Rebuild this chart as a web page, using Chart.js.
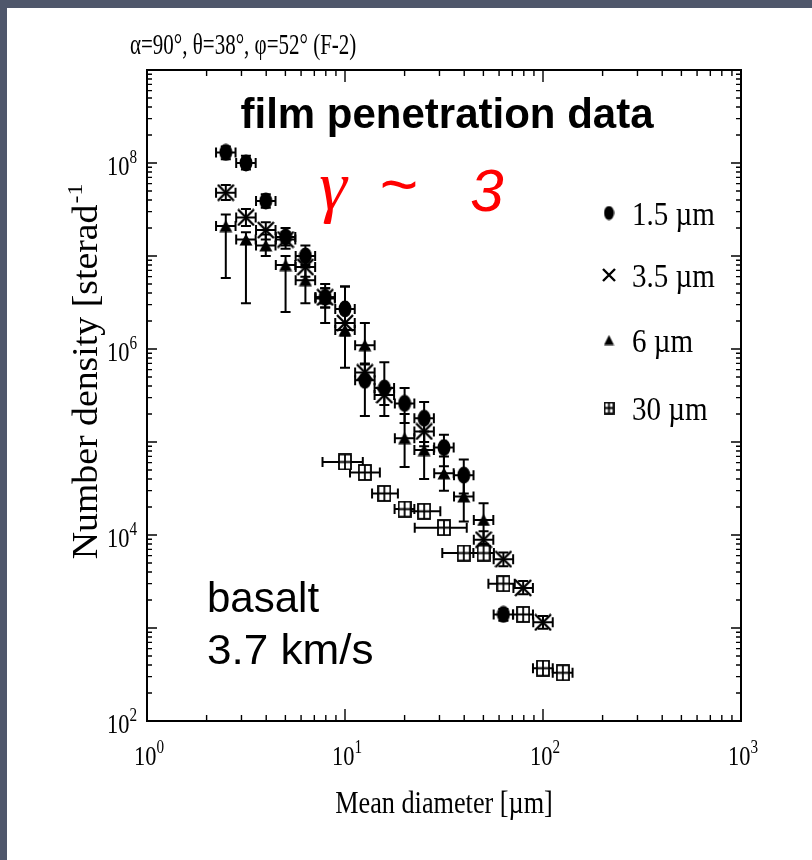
<!DOCTYPE html>
<html>
<head>
<meta charset="utf-8">
<script src="https://cdn.jsdelivr.net/npm/chart.js@4.4.1/dist/chart.umd.min.js"></script>
<style>
  html, body { margin: 0; padding: 0; background: #4f576b; }
  #wrap { position: absolute; left: 0; top: 0; width: 812px; height: 860px; }
</style>
</head>
<body>
<div id="wrap"><canvas id="chart" width="812" height="860"></canvas></div>
<script>
// --- data (mean diameter in um, number density per sterad) ---
const seriesNames = ['1.5 \u00b5m', '3.5 \u00b5m', '6 \u00b5m', '30 \u00b5m']

const d15X = [2.5, 3.16, 3.98, 5.01, 6.31, 7.94, 10, 12.6, 15.8, 20, 25.1, 31.6, 39.8, 63.1]
const d15Y = [1.3e8, 1.0e8, 3.9e7, 1.6e7, 1.0e7, 3.6e6, 2.7e6, 4.6e5, 3.8e5, 2.6e5, 1.8e5, 8.7e4, 4.4e4, 1.4e3]
const d15Lo = [1.1e8, 8.5e7, 3.3e7, 1.3e7, 8e6, 2.8e6, 1.9e6, 1.9e5, 1.9e5, 1.6e5, 1.0e5, 5.5e4, 2.8e4, 1.2e3]
const d15Hi = [1.5e8, 1.2e8, 4.6e7, 2.0e7, 1.3e7, 4.5e6, 4.7e6, 1.0e6, 7.2e5, 3.8e5, 2.7e5, 1.2e5, 6.5e4, 1.6e3]

const d35X = [2.5, 3.16, 3.98, 5.01, 6.31, 7.94, 10, 12.6, 15.8, 25.1, 50.1, 63.1, 79.4, 100]
const d35Y = [4.8e7, 2.6e7, 1.9e7, 1.5e7, 7.6e6, 3.6e6, 1.9e6, 5.6e5, 3.2e5, 1.3e5, 8.9e3, 5.5e3, 2.7e3, 1.15e3]
const d35Lo = [4.0e7, 2.1e7, 1.5e7, 1.2e7, 6.0e6, 2.8e6, 1.4e6, 4.3e5, 2.5e5, 9e4, 7.2e3, 4.6e3, 2.3e3, 9.8e2]
const d35Hi = [5.8e7, 3.2e7, 2.3e7, 1.8e7, 9.5e6, 4.5e6, 2.5e6, 7e5, 4e5, 1.8e5, 1.1e4, 6.5e3, 3.2e3, 1.35e3]

const d6X = [2.5, 3.16, 3.98, 5.01, 6.31, 7.94, 10, 12.6, 20, 25.1, 31.6, 39.8, 50.1]
const d6Y = [2.1e7, 1.5e7, 1.3e7, 8.0e6, 5.5e6, 3.5e6, 1.6e6, 1.1e6, 1.1e5, 8.2e4, 4.6e4, 2.6e4, 1.45e4]
const d6Lo = [5.8e6, 3.1e6, 1.0e7, 2.5e6, 3.1e6, 1.9e6, 6.3e5, 6.8e5, 5.4e4, 4.0e4, 3.0e4, 1.4e4, 8e3]
const d6Hi = [2.8e7, 1.8e7, 1.7e7, 1.0e7, 7.5e6, 5e6, 4.7e6, 1.9e6, 2e5, 1.3e5, 7e4, 4e4, 2.2e4]

const d30X = [10, 12.6, 15.8, 20, 25.1, 31.6, 39.8, 50.1, 63.1, 79.4, 100, 126]
const d30Y = [6.1e4, 4.7e4, 2.8e4, 1.9e4, 1.8e4, 1.2e4, 6.4e3, 6.4e3, 3.0e3, 1.4e3, 370, 330]
const d30Lo = [5.3e4, 4.1e4, 2.4e4, 1.65e4, 1.55e4, 1.05e4, 5.5e3, 5.5e3, 2.6e3, 1.2e3, 320, 290]
const d30Hi = [7e4, 5.4e4, 3.2e4, 2.2e4, 2.1e4, 1.4e4, 7.4e3, 7.4e3, 3.5e3, 1.6e3, 430, 380]
const d30XLo = [7.7, 10.6, 13.7, 17.8, 21.3, 22.5, 31, 44.5, 53, 70.5, 89, 112]
const d30XHi = [12.3, 15.0, 18.5, 22.4, 30.3, 41.2, 50, 56.5, 72, 89, 112, 141]

const xTickExps = [0, 1, 2, 3]
const yTickExps = [2, 4, 6, 8]

const BIN_HALF = 1.12 // horizontal half-width of the size bins (factor)

// --- marker glyphs ---
function makeMarker(kind, w, h) {
  const c = document.createElement('canvas')
  c.width = w
  c.height = h
  const g = c.getContext('2d')
  g.fillStyle = '#000'
  g.strokeStyle = '#000'
  if (kind === 'ellipse') {
    g.beginPath()
    g.ellipse(w / 2, h / 2, w / 2 - 0.5, h / 2 - 0.5, 0, 0, Math.PI * 2)
    g.fill()
  } else if (kind === 'cross') {
    g.lineWidth = 2.4
    g.beginPath()
    g.moveTo(1, 1); g.lineTo(w - 1, h - 1)
    g.moveTo(w - 1, 1); g.lineTo(1, h - 1)
    g.stroke()
  } else if (kind === 'triangle') {
    g.beginPath()
    g.moveTo(w / 2, 0.5); g.lineTo(w - 0.5, h - 0.5); g.lineTo(0.5, h - 0.5)
    g.closePath()
    g.fill()
  } else if (kind === 'boxplus') {
    g.lineWidth = 1.8
    g.fillStyle = '#fff'
    g.fillRect(1, 1, w - 2, h - 2)
    g.strokeRect(1, 1, w - 2, h - 2)
    g.beginPath()
    g.moveTo(w / 2, 1); g.lineTo(w / 2, h - 1)
    g.moveTo(1, h / 2); g.lineTo(w - 1, h / 2)
    g.stroke()
  }
  return c
}

const markers = [
  makeMarker('ellipse', 14, 18),
  makeMarker('cross', 18, 18),
  makeMarker('triangle', 14, 13),
  makeMarker('boxplus', 14, 17),
]
const legendMarkers = [
  makeMarker('ellipse', 11, 15),
  makeMarker('cross', 14, 14),
  makeMarker('triangle', 11, 11),
  makeMarker('boxplus', 11, 13),
]

const toPoints = (xs, ys) => xs.map((x, i) => ({ x, y: ys[i] }))

function dataset(i, xs, ys, lo, hi, xlo, xhi) {
  return {
    label: seriesNames[i],
    data: toPoints(xs, ys),
    pointStyle: markers[i],
    pointRadius: 7,
    pointHoverRadius: 7,
    showLine: false,
    errLo: lo,
    errHi: hi,
    errXLo: xlo,
    errXHi: xhi,
  }
}

// --- helpers for serif-condensed text ---
function drawText(ctx, str, x, y, font, align, sx, color) {
  ctx.save()
  ctx.font = font
  ctx.fillStyle = color || '#000'
  ctx.textAlign = align
  ctx.textBaseline = 'alphabetic'
  ctx.translate(x, y)
  ctx.scale(sx, 1)
  ctx.fillText(str, 0, 0)
  ctx.restore()
}

function drawPower(ctx, exp, x, y, align, sx) {
  const big = '28px "Liberation Serif"'
  const small = '19px "Liberation Serif"'
  ctx.save()
  ctx.font = big
  const wb = ctx.measureText('10').width
  ctx.font = small
  const ws = ctx.measureText(String(exp)).width
  const total = (wb + ws) * sx
  let left = x - total / 2
  if (align === 'right') left = x - total
  ctx.translate(left, y)
  ctx.scale(sx, 1)
  ctx.fillStyle = '#000'
  ctx.textAlign = 'left'
  ctx.font = big
  ctx.fillText('10', 0, 0)
  ctx.font = small
  ctx.fillText(String(exp), wb, -12)
  ctx.restore()
}

const errorBars = {
  id: 'errorBars',
  beforeDatasetsDraw(chart) {
    const { ctx, scales: { x, y } } = chart
    ctx.save()
    ctx.strokeStyle = '#000'
    ctx.lineWidth = 2
    chart.data.datasets.forEach(ds => {
      ds.data.forEach((p, i) => {
        const px = x.getPixelForValue(p.x)
        const py = y.getPixelForValue(p.y)
        const yl = y.getPixelForValue(ds.errLo[i])
        const yh = y.getPixelForValue(ds.errHi[i])
        const xl = x.getPixelForValue(ds.errXLo ? ds.errXLo[i] : p.x / BIN_HALF)
        const xh = x.getPixelForValue(ds.errXHi ? ds.errXHi[i] : p.x * BIN_HALF)
        ctx.beginPath()
        ctx.moveTo(px, yl); ctx.lineTo(px, yh)
        ctx.moveTo(px - 5, yl); ctx.lineTo(px + 5, yl)
        ctx.moveTo(px - 5, yh); ctx.lineTo(px + 5, yh)
        ctx.moveTo(xl, py); ctx.lineTo(xh, py)
        ctx.moveTo(xl, py - 5); ctx.lineTo(xl, py + 5)
        ctx.moveTo(xh, py - 5); ctx.lineTo(xh, py + 5)
        ctx.stroke()
      })
    })
    ctx.restore()
  },
}

const frame = {
  id: 'frame',
  beforeDraw(chart) {
    const { ctx, width, height } = chart
    ctx.save()
    ctx.fillStyle = '#4f576b'
    ctx.fillRect(0, 0, width, height)
    ctx.fillStyle = '#ffffff'
    ctx.fillRect(7, 8, width - 7, height - 8)
    ctx.restore()
  },
  afterDraw(chart) {
    const { ctx, chartArea: a, scales: { x, y } } = chart
    ctx.save()
    ctx.strokeStyle = '#000'
    ctx.lineWidth = 2
    ctx.strokeRect(a.left, a.top, a.right - a.left, a.bottom - a.top)

    // inward ticks on all four sides
    ctx.lineWidth = 1.4
    ctx.beginPath()
    for (let d = 0; d < 3; d++) {
      for (let m = 1; m < 10; m++) {
        const px = x.getPixelForValue(m * Math.pow(10, d))
        const len = m === 1 ? 12 : 6
        ctx.moveTo(px, a.bottom); ctx.lineTo(px, a.bottom - len)
        ctx.moveTo(px, a.top); ctx.lineTo(px, a.top + len)
      }
    }
    for (let d = 2; d < 9; d++) {
      for (let m = 1; m < 10; m++) {
        const py = y.getPixelForValue(m * Math.pow(10, d))
        const len = m === 1 ? 10 : 5
        ctx.moveTo(a.left, py); ctx.lineTo(a.left + len, py)
        ctx.moveTo(a.right, py); ctx.lineTo(a.right - len, py)
      }
    }
    ctx.stroke()
    ctx.restore()

    // tick labels
    xTickExps.forEach(e => drawPower(ctx, e, x.getPixelForValue(Math.pow(10, e)) + 2, a.bottom + 44, 'center', 0.8))
    yTickExps.forEach(e => drawPower(ctx, e, a.left - 10, y.getPixelForValue(Math.pow(10, e)) + 12, 'right', 0.8))

    // axis titles
    drawText(ctx, 'Mean diameter [\u00b5m]', (a.left + a.right) / 2, 813, '32px "Liberation Serif"', 'center', 0.82)
    ctx.save()
    ctx.translate(97, 372)
    ctx.rotate(-Math.PI / 2)
    ctx.scale(1.08, 1)
    ctx.font = '35px "Liberation Serif"'
    const main = 'Number density [sterad'
    const wm = ctx.measureText(main).width
    ctx.font = '22px "Liberation Serif"'
    const we = ctx.measureText('-1').width
    const start = -(wm + we) / 2
    ctx.fillStyle = '#000'
    ctx.font = '35px "Liberation Serif"'
    ctx.fillText(main, start, 0)
    ctx.font = '22px "Liberation Serif"'
    ctx.fillText('-1', start + wm + 1, -15)
    ctx.restore()

    // header
    drawText(ctx, '\u03b1=90\u00b0, \u03b8=38\u00b0, \u03c6=52\u00b0 (F-2)', 130, 54, '30px "Liberation Serif"', 'left', 0.7)

    // annotations
    drawText(ctx, 'film penetration data', 447, 128, 'bold 42px "Liberation Sans"', 'center', 1)
    drawText(ctx, '\u03b3', 333, 209, 'italic 70px "Liberation Serif"', 'center', 1, '#ff0000')
    drawText(ctx, '~', 398, 207, 'italic 66px "Liberation Sans"', 'center', 1, '#ff0000')
    drawText(ctx, '3', 487, 211, 'italic 60px "Liberation Sans"', 'center', 1, '#ff0000')
    drawText(ctx, 'basalt', 207, 612, '42px "Liberation Sans"', 'left', 1)
    drawText(ctx, '3.7 km/s', 207, 664, '42px "Liberation Sans"', 'left', 1.05)

    // legend
    const rows = [213, 275, 340, 408]
    chart.data.datasets.forEach((ds, i) => {
      const m = legendMarkers[i]
      ctx.drawImage(m, 609 - m.width / 2, rows[i] - m.height / 2)
      drawText(ctx, ds.label, 632, rows[i] + 12, '33px "Liberation Serif"', 'left', 0.88)
    })
  },
}

new Chart(document.getElementById('chart'), {
  type: 'scatter',
  data: {
    datasets: [
      dataset(0, d15X, d15Y, d15Lo, d15Hi),
      dataset(1, d35X, d35Y, d35Lo, d35Hi),
      dataset(2, d6X, d6Y, d6Lo, d6Hi),
      dataset(3, d30X, d30Y, d30Lo, d30Hi, d30XLo, d30XHi),
    ],
  },
  options: {
    responsive: false,
    animation: false,
    layout: { padding: { left: 147, right: 71, top: 70, bottom: 139 } },
    plugins: {
      legend: { display: false },
      tooltip: { enabled: false },
    },
    scales: {
      x: { type: 'logarithmic', min: 1, max: 1000, display: false },
      y: { type: 'logarithmic', min: 100, max: 1e9, display: false },
    },
  },
  plugins: [frame, errorBars],
})
</script>
</body>
</html>
